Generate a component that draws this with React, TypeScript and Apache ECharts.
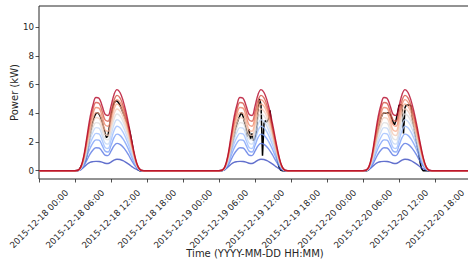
import React, { useEffect, useRef } from "react";
import * as echarts from "echarts";

// Forecast quantile profiles (kW), half-hourly from 06:00 to 17:30, identical each day
const FORECAST_HOURS = [6, 6.5, 7, 7.5, 8, 8.5, 9, 9.5, 10, 10.5, 11, 11.5, 12, 12.5, 13, 13.5, 14, 14.5, 15, 15.5, 16, 16.5, 17, 17.5];
const Q00 = [0, 0.01, 0.08, 0.25, 0.45, 0.58, 0.63, 0.65, 0.64, 0.6, 0.52, 0.5, 0.6, 0.74, 0.8, 0.78, 0.7, 0.58, 0.44, 0.28, 0.14, 0.04, 0, 0];
const Q01 = [0, 0.01, 0.1, 0.35, 0.75, 1.15, 1.44, 1.6, 1.58, 1.36, 1.09, 1.05, 1.36, 1.73, 1.9, 1.83, 1.65, 1.38, 1.04, 0.67, 0.34, 0.1, 0.01, 0];
const Q02 = [0, 0.01, 0.13, 0.47, 1.01, 1.55, 1.94, 2.15, 2.13, 1.78, 1.37, 1.3, 1.75, 2.3, 2.55, 2.46, 2.21, 1.85, 1.4, 0.9, 0.45, 0.14, 0.01, 0];
const Q03 = [0, 0.02, 0.16, 0.57, 1.22, 1.87, 2.34, 2.6, 2.57, 2.14, 1.63, 1.55, 2.11, 2.79, 3.1, 2.99, 2.69, 2.25, 1.7, 1.1, 0.55, 0.16, 0.02, 0];
const Q04 = [0, 0.02, 0.18, 0.65, 1.41, 2.16, 2.7, 3.0, 2.97, 2.49, 1.94, 1.85, 2.46, 3.21, 3.55, 3.43, 3.08, 2.58, 1.95, 1.26, 0.63, 0.19, 0.02, 0];
const Q05 = [0, 0.02, 0.2, 0.73, 1.57, 2.41, 3.02, 3.35, 3.32, 2.82, 2.25, 2.15, 2.8, 3.59, 3.95, 3.81, 3.42, 2.87, 2.17, 1.4, 0.7, 0.21, 0.02, 0];
const Q06 = [0, 0.02, 0.22, 0.8, 1.74, 2.66, 3.33, 3.7, 3.66, 3.15, 2.55, 2.45, 3.12, 3.93, 4.3, 4.15, 3.73, 3.12, 2.36, 1.52, 0.76, 0.23, 0.02, 0];
const Q07 = [0, 0.02, 0.24, 0.88, 1.9, 2.92, 3.65, 4.05, 4.01, 3.48, 2.85, 2.75, 3.43, 4.27, 4.65, 4.49, 4.03, 3.38, 2.55, 1.65, 0.82, 0.25, 0.02, 0];
const Q08 = [0, 0.03, 0.26, 0.95, 2.07, 3.17, 3.96, 4.4, 4.36, 3.83, 3.2, 3.1, 3.77, 4.58, 4.95, 4.78, 4.29, 3.59, 2.72, 1.75, 0.88, 0.26, 0.02, 0];
const Q09 = [0, 0.03, 0.28, 1.03, 2.23, 3.42, 4.28, 4.75, 4.7, 4.18, 3.55, 3.45, 4.1, 4.89, 5.25, 5.07, 4.55, 3.81, 2.88, 1.86, 0.93, 0.28, 0.03, 0];
const Q10 = [0, 0.03, 0.3, 1.1, 2.4, 3.7, 4.6, 5.1, 5.05, 4.55, 3.95, 3.85, 4.5, 5.3, 5.65, 5.45, 4.9, 4.1, 3.1, 2.0, 1.0, 0.3, 0.03, 0];
const QUANTILES = [Q00, Q01, Q02, Q03, Q04, Q05, Q06, Q07, Q08, Q09, Q10];
const QUANTILE_COLORS = ["#3b4cc0", "#5977e3", "#7b9ff9", "#9ebeff", "#c0d4f5", "#dddcdc", "#f2cbb7", "#f7ac8e", "#ee8468", "#d65244", "#b40426"];

// Actual power (kW), quarter-hourly from 06:00 to 17:30
const ACTUAL_HOURS = [6, 6.25, 6.5, 6.75, 7, 7.25, 7.5, 7.75, 8, 8.25, 8.5, 8.75, 9, 9.25, 9.5, 9.75, 10, 10.25, 10.5, 10.75, 11, 11.25, 11.5, 11.75, 12, 12.25, 12.5, 12.75, 13, 13.25, 13.5, 13.75, 14, 14.25, 14.5, 14.75, 15, 15.25, 15.5, 15.75, 16, 16.25, 16.5, 16.75, 17, 17.25, 17.5];
const ACTUAL_DAY1 = [0, 0, 0.02, 0.1, 0.3, 0.45, 0.5, 0.7, 1.1, 1.7, 2.4, 3.0, 3.45, 3.8, 4.0, 4.05, 3.95, 3.75, 3.45, 3.05, 2.65, 2.3, 2.45, 3.1, 3.8, 4.35, 4.7, 4.85, 4.85, 4.75, 4.55, 4.3, 4.05, 3.8, 3.5, 3.25, 2.95, 2.5, 1.95, 1.3, 0.7, 0.3, 0.08, 0, 0, 0, 0];
const ACTUAL_DAY2 = [0, 0, 0, 0.05, 0.2, 0.45, 0.7, 1.0, 1.4, 1.9, 2.4, 2.9, 3.3, 3.6, 3.85, 4.05, 3.8, 3.4, 3.0, 2.4, 2.9, 2.2, 2.6, 2.1, 2.3, 2.8, 4.2, 5.0, 4.6, 1.05, 3.3, 3.5, 3.4, 3.6, 4.2, 3.3, 2.6, 1.9, 1.3, 0.7, 0.25, 0.05, 0, 0, 0, 0, 0];
const ACTUAL_DAY3 = [0, 0, 0, 0.02, 0.1, 0.35, 0.8, 1.3, 1.8, 2.3, 2.8, 3.3, 3.7, 3.95, 4.05, 4.0, 4.0, 4.05, 3.95, 3.7, 3.4, 3.2, 3.5, 4.0, 4.55, 4.6, 4.55, 2.6, 4.4, 4.6, 4.55, 4.6, 4.5, 3.5, 3.0, 2.4, 1.8, 1.3, 0.6, 0.15, 0, 0, 0, 0, 0, 0, 0];

const DAY_OFFSETS = [0, 24, 48];
const TOTAL_HOURS = 72;
const TICK_LABELS = [
  "2015-12-18 00:00", "2015-12-18 06:00", "2015-12-18 12:00", "2015-12-18 18:00",
  "2015-12-19 00:00", "2015-12-19 06:00", "2015-12-19 12:00", "2015-12-19 18:00",
  "2015-12-20 00:00", "2015-12-20 06:00", "2015-12-20 12:00", "2015-12-20 18:00",
];
const Y_TICKS = [0, 2, 4, 6, 8, 10];

const FONT = "DejaVu Sans";

function buildSeries(hours: number[], days: number[][]) {
  const pts: number[][] = [[0, 0]];
  days.forEach((vals, d) => {
    hours.forEach((h, i) => pts.push([DAY_OFFSETS[d] + h, vals[i]]));
  });
  pts.push([TOTAL_HOURS, 0]);
  return pts;
}

export default function App() {
  const ref = useRef<HTMLDivElement>(null);
  useEffect(() => {
    if (!ref.current) return;
    const chart = echarts.init(ref.current, null, { renderer: "svg" });
    const series: any[] = [
      {
        type: "line",
        name: "actual",
        data: buildSeries(ACTUAL_HOURS, [ACTUAL_DAY1, ACTUAL_DAY2, ACTUAL_DAY3]),
        showSymbol: false,
        lineStyle: { color: "#000000", width: 1.5 },
        z: 2,
      },
      ...QUANTILES.map((q, i) => ({
        type: "line",
        name: "q" + i,
        data: buildSeries(FORECAST_HOURS, [q, q, q]),
        showSymbol: false,
        smooth: 0.4,
        lineStyle: { color: QUANTILE_COLORS[i], width: 1.4, opacity: 0.8 },
        z: 2,
      })),
    ];
    chart.setOption({
      animation: false,
      grid: {
        left: 39,
        right: -3,
        top: 6,
        bottom: 80,
        show: true,
        borderColor: "#262626",
        borderWidth: 1,
        outerBoundsMode: "none",
        containLabel: false,
      },
      xAxis: {
        type: "value",
        min: 0,
        max: TOTAL_HOURS,
        interval: 6,
        axisLine: { show: false, onZero: false },
        axisTick: { show: true, length: 3.5, lineStyle: { color: "#262626", width: 0.8 } },
        splitLine: { show: false },
        axisLabel: {
          rotate: 45,
          align: "center",
          verticalAlign: "middle",
          margin: 40,
          fontSize: 8.7,
          fontFamily: FONT,
          color: "#262626",
          showMaxLabel: false,
          formatter: (v: number) => TICK_LABELS[Math.round(v / 6)] ?? "",
        },
        name: "Time (YYYY-MM-DD HH:MM)",
        nameLocation: "middle",
        nameGap: 69,
        nameMoveOverlap: false,
        nameTextStyle: { fontSize: 10, fontFamily: FONT, color: "#262626" },
      },
      yAxis: {
        type: "value",
        min: -0.58,
        max: 11.48,
        axisLine: { show: false },
        axisTick: { show: true, length: 3.5, customValues: Y_TICKS, lineStyle: { color: "#262626", width: 0.8 } },
        splitLine: { show: false },
        axisLabel: {
          customValues: Y_TICKS,
          margin: 5,
          fontSize: 8.7,
          fontFamily: FONT,
          color: "#262626",
        },
        name: "Power (kW)",
        nameLocation: "middle",
        nameGap: 20,
        nameMoveOverlap: false,
        nameTextStyle: { fontSize: 10, fontFamily: FONT, color: "#262626" },
      },
      series,
    });
    return () => chart.dispose();
  }, []);
  return <div ref={ref} style={{ position: "absolute", left: 0, top: 0, width: 468, height: 259 }} />;
}
